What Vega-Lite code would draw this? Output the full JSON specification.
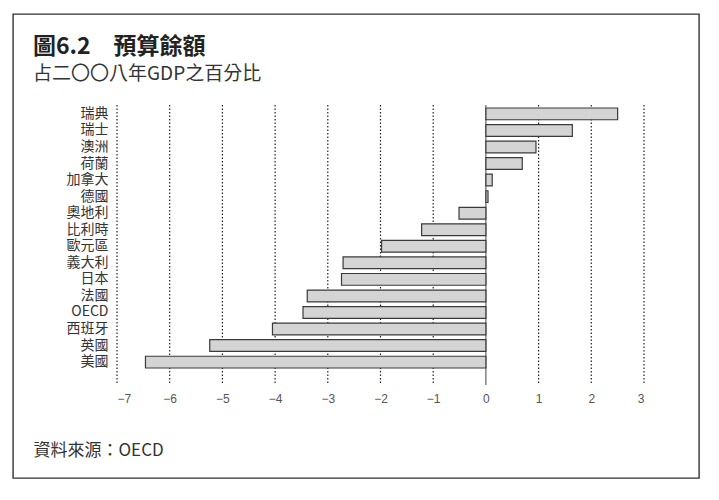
{
  "$schema": "https://vega.github.io/schema/vega-lite/v6.json",
  "width": 686,
  "height": 464,
  "autosize": "none",
  "padding": {"left": 13, "top": 14, "right": 20, "bottom": 22},
  "background": "white",
  "title": {
    "text": "圖6.2　預算餘額",
    "subtitle": "占二〇〇八年GDP之百分比",
    "anchor": "start",
    "frame": "group",
    "dx": 20,
    "offset": -70,
    "font": "Noto Sans CJK TC",
    "fontSize": 23,
    "fontWeight": "bold",
    "color": "#222",
    "subtitleFont": "Noto Sans CJK TC",
    "subtitleFontSize": 19,
    "subtitleColor": "#333",
    "subtitlePadding": 6
  },
  "layer": [
    {
      "data": {"values": [
        {"x": -7}, {"x": -6}, {"x": -5}, {"x": -4}, {"x": -3},
        {"x": -2}, {"x": -1}, {"x": 1}, {"x": 2}, {"x": 3}
      ]},
      "mark": {"type": "rule", "color": "#222", "strokeWidth": 1.2, "strokeDash": [1.5, 2]},
      "encoding": {
        "x": {"field": "x", "type": "quantitative", "scale": {"domain": [-7, 3], "range": [104, 631], "nice": false, "zero": false}, "title": "資料來源：OECD"},
        "y": {"datum": 0, "type": "quantitative", "scale": {"domain": [0, 1], "range": [91, 371]}, "axis": null},
        "y2": {"datum": 1}
      }
    },
    {
      "data": {"values": [{"x": 0}]},
      "mark": {"type": "rule", "color": "#444", "strokeWidth": 1},
      "encoding": {
        "x": {"field": "x", "type": "quantitative", "scale": {"domain": [-7, 3], "range": [104, 631], "nice": false, "zero": false}, "title": "資料來源：OECD"},
        "y": {"datum": 0, "type": "quantitative", "scale": {"domain": [0, 1], "range": [91, 371]}, "axis": null},
        "y2": {"datum": 1}
      }
    },
    {
      "data": {"values": [
        {"country": "瑞典", "x": 2.5},
        {"country": "瑞士", "x": 1.64},
        {"country": "澳洲", "x": 0.95},
        {"country": "荷蘭", "x": 0.69},
        {"country": "加拿大", "x": 0.12},
        {"country": "德國", "x": 0.04},
        {"country": "奧地利", "x": -0.51},
        {"country": "比利時", "x": -1.22},
        {"country": "歐元區", "x": -1.98},
        {"country": "義大利", "x": -2.71},
        {"country": "日本", "x": -2.74},
        {"country": "法國", "x": -3.39},
        {"country": "OECD", "x": -3.47},
        {"country": "西班牙", "x": -4.05},
        {"country": "英國", "x": -5.24},
        {"country": "美國", "x": -6.46}
      ]},
      "mark": {"type": "bar", "fill": "#d4d4d4", "stroke": "#3a3a3a", "strokeWidth": 1.2},
      "encoding": {
        "x": {
          "field": "x",
          "type": "quantitative",
          "scale": {"domain": [-7, 3], "range": [104, 631], "nice": false, "zero": false},
          "title": "資料來源：OECD",
          "axis": {
            "orient": "bottom",
            "offset": -88,
            "values": [-7, -6, -5, -4, -3, -2, -1, 0, 1, 2, 3],
            "format": "d",
            "domain": false,
            "ticks": false,
            "grid": false,
            "labelPadding": 3,
            "labelFont": "Liberation Sans",
            "labelFontSize": 12,
            "labelColor": "#555",
            "titleX": 20,
            "titleY": 60,
            "titleAlign": "left",
            "titleBaseline": "middle",
            "titleFont": "Noto Sans CJK TC",
            "titleFontSize": 17,
            "titleFontWeight": "normal",
            "titleColor": "#333"
          }
        },
        "x2": {"datum": 0},
        "y": {
          "field": "country",
          "type": "nominal",
          "sort": null,
          "scale": {"range": [94, 354], "paddingInner": 0.29, "paddingOuter": 0},
          "title": null,
          "axis": {
            "orient": "left",
            "offset": -104,
            "domain": false,
            "ticks": false,
            "grid": false,
            "labelPadding": 9,
            "labelFont": "Noto Sans CJK TC",
            "labelFontSize": 14,
            "labelColor": "#333"
          }
        }
      }
    }
  ],
  "resolve": {"scale": {"y": "independent"}, "axis": {"y": "independent"}},
  "config": {
    "view": {"stroke": "#333", "strokeWidth": 1.4}
  }
}
